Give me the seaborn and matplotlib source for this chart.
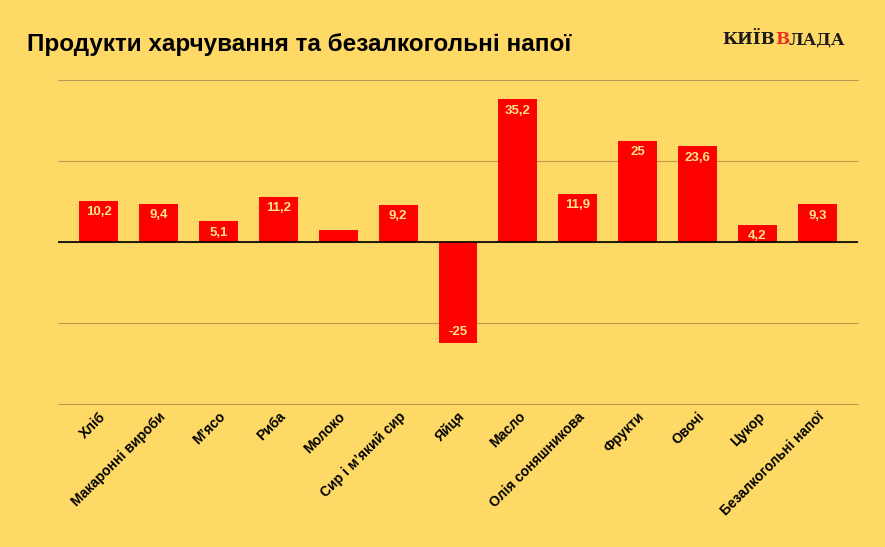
import matplotlib
matplotlib.use("Agg")
import matplotlib.pyplot as plt
import seaborn as sns
import pandas as pd

categories = ["Хліб", "Макаронні вироби", "М'ясо", "Риба", "Молоко", "Сир і м'який сир",
              "Яйця", "Масло", "Олія соняшникова", "Фрукти", "Овочі", "Цукор",
              "Безалкогольні напої"]
categories = [c.replace("'", "\u2019") for c in categories]
values = [10.2, 9.4, 5.1, 11.2, 2.9, 9.2, -25, 35.2, 11.9, 25, 23.6, 4.2, 9.3]
labels = ["10,2", "9,4", "5,1", "11,2", "", "9,2", "-25", "35,2", "11,9", "25", "23,6", "4,2", "9,3"]
yticks = [-40, -20, 0, 20, 40]

BG = "#FFD966"
sns.set_theme(style="white")
plt.rcParams["font.family"] = ["Liberation Sans", "DejaVu Sans"]

fig = plt.figure(figsize=(8.85, 5.47), dpi=100, facecolor=BG)
ax = fig.add_axes([58/885, 1-404/547, 800/885, 324/547])
ax.set_facecolor(BG)

df = pd.DataFrame({"cat": categories, "val": values})
sns.barplot(data=df, x="cat", y="val", color="#FF0000", saturation=1, width=0.65, ax=ax,
            edgecolor="none", linewidth=0)

ax.set_ylim(-40, 40)
ax.set_xlim(-0.68, len(categories) - 1 + 0.68)
ax.set_yticks(yticks)
ax.set_yticklabels([])
ax.tick_params(axis="y", length=0)
ax.tick_params(axis="x", length=0, pad=4)
for s in ax.spines.values():
    s.set_visible(False)
ax.grid(axis="y", color="#B89B50", linewidth=0.8)
for gl in ax.get_ygridlines():
    gl.set_clip_on(False)
ax.set_axisbelow(True)
ax.axhline(0, color="black", linewidth=1.2, zorder=3)
ax.set_xlabel("")
ax.set_ylabel("")
ax.set_xticks(range(len(categories)))
ax.set_xticklabels(categories, rotation=45, ha="right", rotation_mode="anchor",
                   fontsize=10, fontweight="bold", color="black")

for i, (v, lab) in enumerate(zip(values, labels)):
    if not lab:
        continue
    off = -2.8 if v > 0 else 2.8
    ax.text(i, v + off, lab, ha="center", va="center", fontsize=9.5, fontweight="bold",
            color="#FFE58A", zorder=4)

fig.text(27/885, 1-44/547, "Продукти харчування та безалкогольні напої", fontsize=17.5,
         fontweight="bold", color="black", ha="left", va="center")

# logo
x0 = 722/885
yl = 1-40/547
fs = 12
t1 = fig.text(x0, yl, "КИЇВ", fontsize=fs, fontweight="bold", family="DejaVu Serif",
              color="#1a1a1a", ha="left", va="center")
fig.canvas.draw()
bb = t1.get_window_extent()
t2 = fig.text(bb.x1/885, yl, "В", fontsize=fs, fontweight="bold", family="DejaVu Serif",
              color="#E8321E", ha="left", va="center")
fig.canvas.draw()
bb2 = t2.get_window_extent()
fig.text(bb2.x1/885, yl, "ЛАДА", fontsize=fs, fontweight="bold", family="DejaVu Serif",
         color="#1a1a1a", ha="left", va="center")

fig.savefig("out.png", dpi=100, facecolor=BG)
